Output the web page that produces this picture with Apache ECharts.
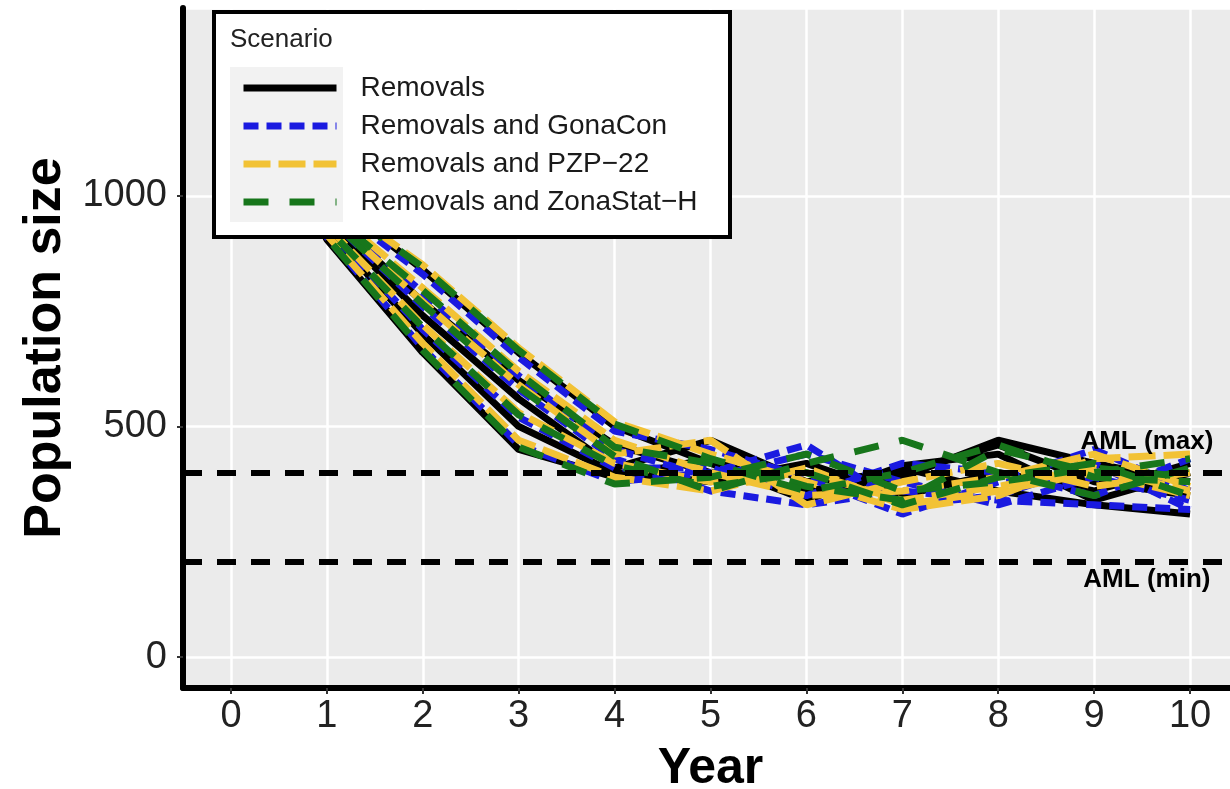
<!DOCTYPE html>
<html>
<head>
<meta charset="utf-8">
<title>Population size by year</title>
<script src="https://cdn.jsdelivr.net/npm/echarts@6/dist/echarts.min.js"></script>
<style>
  html, body { margin: 0; padding: 0; background: #fff; }
  #chart { width: 1230px; height: 789px; }
</style>
</head>
<body>
<div id="chart"></div>
<script>
// years simulated
var years = [0, 1, 2, 3, 4, 5, 6, 7, 8, 9, 10];

var scenarios = ['Removals', 'Removals and GonaCon', 'Removals and PZP\u221222', 'Removals and ZonaStat\u2212H'];

// replicate trajectories, one list per scenario
var removals = [
  [1340, 905, 660, 450, 390, 430, 350, 410, 360, 330, 310],
  [1340, 950, 740, 560, 410, 470, 380, 400, 460, 380, 350],
  [1340, 1000, 840, 660, 500, 420, 340, 415, 440, 340, 400],
  [1340, 960, 770, 600, 460, 400, 360, 390, 470, 420, 380],
  [1340, 925, 700, 500, 400, 380, 420, 350, 400, 360, 420]
];
var gonacon = [
  [1340, 910, 670, 460, 380, 400, 460, 330, 350, 420, 320],
  [1340, 955, 760, 580, 430, 360, 330, 360, 340, 330, 320],
  [1340, 990, 830, 650, 490, 450, 390, 310, 380, 450, 360],
  [1340, 970, 790, 610, 450, 390, 440, 380, 330, 390, 340],
  [1340, 930, 710, 520, 410, 410, 350, 420, 400, 350, 430]
];
var pzp22 = [
  [1340, 915, 680, 470, 390, 360, 410, 330, 360, 400, 350],
  [1340, 960, 770, 590, 440, 470, 330, 380, 420, 370, 400],
  [1340, 1000, 850, 670, 510, 440, 380, 320, 350, 430, 440],
  [1340, 975, 800, 620, 470, 400, 350, 360, 390, 440, 370],
  [1340, 935, 720, 530, 420, 380, 400, 340, 370, 410, 360]
];
var zonastat = [
  [1340, 910, 665, 455, 375, 390, 440, 360, 380, 410, 390],
  [1340, 955, 765, 585, 435, 360, 420, 470, 400, 350, 410],
  [1340, 995, 845, 665, 505, 430, 370, 340, 450, 400, 430],
  [1340, 965, 795, 615, 455, 420, 360, 400, 460, 390, 380],
  [1340, 930, 715, 525, 415, 370, 400, 330, 390, 420, 350]
];

// appropriate management level
var amlLevels = [400, 207];
var amlLabels = ['AML (max)', 'AML (min)'];
var amlLabelX = 9.55;
var amlLabelY = [466, 167];

var font = '"Liberation Sans", Arial, sans-serif';
var colors = ['#000000', '#1a1ae0', '#f2c235', '#17761b'];
var dashes = ['solid', [15, 8], [27, 8], [25, 21]];
var runs = [removals, gonacon, pzp22, zonastat];

var chart = echarts.init(document.getElementById('chart'));

var series = [];
for (var s = 0; s < scenarios.length; s++) {
  for (var r = 0; r < runs[s].length; r++) {
    var pts = [];
    for (var i = 0; i < years.length; i++) {
      pts.push([years[i], runs[s][r][i]]);
    }
    series.push({
      name: scenarios[s],
      type: 'line',
      data: pts,
      symbol: 'none',
      z: 2,
      color: colors[s],
      lineStyle: { color: colors[s], width: 7, type: dashes[s] },
      emphasis: { disabled: true }
    });
  }
}

// dashed AML lines
series.push({
  name: 'aml',
  type: 'line',
  data: [],
  markLine: {
    silent: true,
    symbol: 'none',
    label: { show: false },
    lineStyle: { color: '#000', width: 6, type: [19, 15] },
    data: amlLevels.map(function (v) { return { yAxis: v }; })
  }
});

// AML labels
series.push({
  name: 'amlText',
  type: 'scatter',
  symbolSize: 0,
  z: 5,
  itemStyle: { opacity: 1 },
  data: amlLabels.map(function (t, i) { return { value: [amlLabelX, amlLabelY[i]], name: t }; }),
  label: {
    show: true,
    position: 'inside',
    formatter: '{b}',
    color: '#000',
    opacity: 1,
    textBorderWidth: 0,
    fontSize: 26,
    fontWeight: 'bold',
    fontFamily: font
  }
});

chart.setOption({
  animation: false,
  backgroundColor: '#ffffff',
  title: {
    text: 'Scenario',
    left: 230,
    top: 27,
    padding: 0,
    textStyle: { color: '#222', fontSize: 26, fontWeight: 'normal', fontFamily: font }
  },
  graphic: [
    {
      type: 'rect', z: 3,
      shape: { x: 214, y: 12, width: 516, height: 225 },
      style: { fill: '#ffffff', stroke: '#000000', lineWidth: 4 }
    },
    {
      type: 'rect', z: 3,
      shape: { x: 230, y: 67, width: 113, height: 155 },
      style: { fill: '#f2f2f2' }
    }
  ],
  legend: {
    data: scenarios,
    orient: 'vertical',
    left: 240,
    top: 74,
    padding: 0,
    itemWidth: 93,
    itemHeight: 14,
    itemGap: 10,
    itemStyle: { opacity: 0 },
    lineStyle: { width: 7 },
    textStyle: { color: '#1a1a1a', fontSize: 28, fontFamily: font, padding: [0, 0, 0, 19] }
  },
  grid: {
    left: 183,
    top: 8,
    width: 1055,
    height: 680,
    outerBoundsMode: 'none',
    show: true,
    backgroundColor: '#ebebeb',
    borderWidth: 0
  },
  xAxis: {
    type: 'value',
    min: -0.5,
    max: 10.5,
    minInterval: 1,
    maxInterval: 1,
    name: 'Year',
    nameLocation: 'middle',
    nameGap: 56,
    nameTextStyle: { color: '#000', fontSize: 50, fontWeight: 'bold', fontFamily: font },
    axisLine: { show: true, onZero: false, lineStyle: { color: '#000', width: 6 } },
    axisTick: { show: true, length: 6, lineStyle: { color: '#333', width: 2 } },
    axisLabel: { color: '#222', fontSize: 38, fontFamily: font, margin: 10, showMinLabel: false, showMaxLabel: false },
    splitLine: { show: true, lineStyle: { color: '#ffffff', width: 2.5 } }
  },
  yAxis: {
    type: 'value',
    min: -67,
    max: 1407,
    minInterval: 500,
    maxInterval: 500,
    name: 'Population size',
    nameLocation: 'middle',
    nameRotate: 90,
    nameGap: 88,
    nameTextStyle: { color: '#000', fontSize: 52, fontWeight: 'bold', fontFamily: font },
    axisLine: { show: true, onZero: false, lineStyle: { color: '#000', width: 6 } },
    axisTick: { show: true, length: 6, lineStyle: { color: '#333', width: 2 } },
    axisLabel: {
      color: '#222', fontSize: 38, fontFamily: font, margin: 16, showMinLabel: false, showMaxLabel: false,
      formatter: function (v) { return String(v); }
    },
    splitLine: { show: true, lineStyle: { color: '#ffffff', width: 2.5 } }
  },
  series: series
});
</script>
</body>
</html>
